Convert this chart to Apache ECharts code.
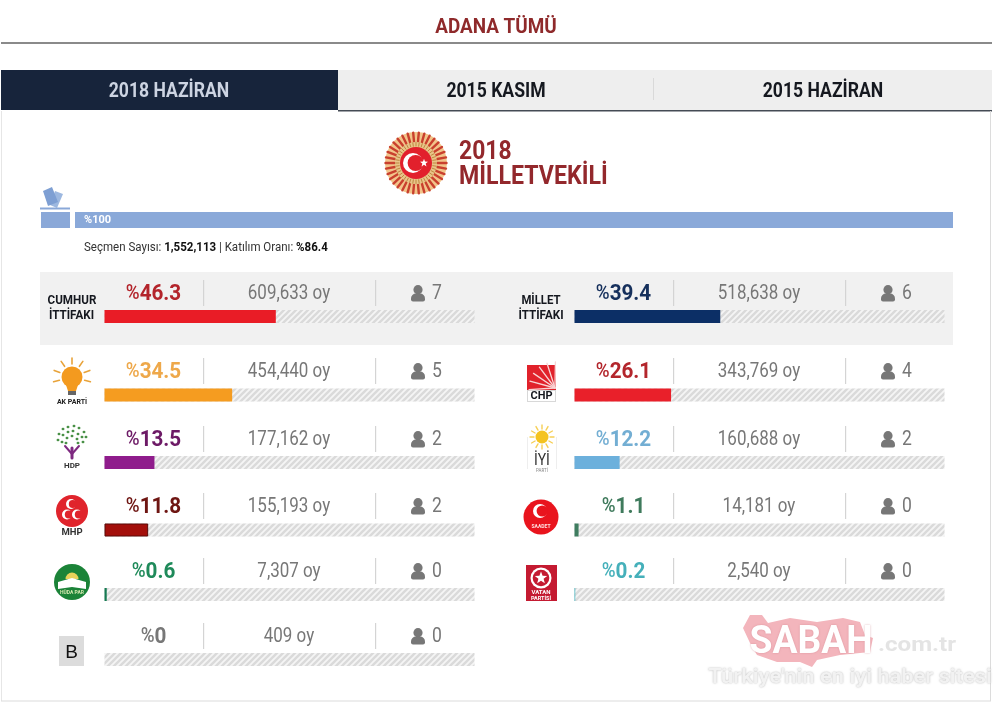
<!DOCTYPE html>
<html><head><meta charset="utf-8">
<style>html,body{margin:0;padding:0;background:#fff}#c{width:996px;height:706px}#c canvas{filter:blur(.35px)}</style>
<script src="https://cdn.jsdelivr.net/npm/echarts@6/dist/echarts.min.js"></script>
</head><body><div id="c"></div>
<script>
// ---- data ----
const title = 'ADANA TÜMÜ';
const tabs = ['2018 HAZİRAN', '2015 KASIM', '2015 HAZİRAN'];
const heading = ['2018', 'MİLLETVEKİLİ'];
const voters = '1,552,113';
const turnout = '%86.4';
const fullScale = 100;
const totalPercent = 100;

const leftKeys = ['cumhur', 'akp', 'hdp', 'mhp', 'huda', 'b'];
const leftPercents = [46.3, 34.5, 13.5, 11.8, 0.6, 0];
const leftVotes = ['609,633', '454,440', '177,162', '155,193', '7,307', '409'];
const leftSeats = [7, 5, 2, 2, 0, 0];

const rightKeys = ['millet', 'chp', 'iyi', 'saadet', 'vatan'];
const rightPercents = [39.4, 26.1, 12.2, 1.1, 0.2];
const rightVotes = ['518,638', '343,769', '160,688', '14,181', '2,540'];
const rightSeats = [6, 4, 2, 0, 0];

// ---- styling ----
const barColors = {cumhur:'#e91c26',akp:'#f59c20',hdp:'#8f1c8c',mhp:'#a30f0b',huda:'#167a52',b:'#888888',
  millet:'#0c2f66',chp:'#e9202a',iyi:'#6cb0dc',saadet:'#3f7d60',vatan:'#45b5bf'};
const valueColors = {cumhur:'#b3242b',akp:'#eea84a',hdp:'#6d1a66',mhp:'#6e1512',huda:'#1f8a5a',b:'#777777',
  millet:'#16305c',chp:'#b3262c',iyi:'#73aed3',saadet:'#3f7a5c',vatan:'#45b0ba'};
const rowText = [293, 371, 439, 506, 571, 636];
const rowBar = [310, 388.5, 456, 523.5, 588, 653];
const F = 'Roboto, sans-serif';

function hatch(bg, fg){
  const c = document.createElement('canvas'); c.width = 6; c.height = 6;
  const g = c.getContext('2d');
  g.fillStyle = bg; g.fillRect(0,0,6,6);
  g.strokeStyle = fg; g.lineWidth = 2.4;
  [[-1,1,1,-1],[-1,7,7,-1],[5,7,7,5]].forEach(l=>{g.beginPath();g.moveTo(l[0],l[1]);g.lineTo(l[2],l[3]);g.stroke();});
  return c;
}
const hatchTile = hatch('#f5f5f5', '#dadada');

const els = [];
function rect(x,y,w,h,fill,z,r){els.push({type:'rect',silent:true,z:z||1,shape:{x,y,width:w,height:h,r:r||0},style:{fill}});}
function circle(cx,cy,r,fill,z){els.push({type:'circle',silent:true,z:z||5,shape:{cx,cy,r},style:{fill}});}
function line(x1,y1,x2,y2,stroke,w,z){els.push({type:'line',silent:true,z:z||3,shape:{x1,y1,x2,y2},style:{stroke,lineWidth:w||1,lineCap:'round'}});}
function poly(pts,fill,z){els.push({type:'polygon',silent:true,z:z||5,shape:{points:pts},style:{fill}});}
function text(t,x,y,font,fill,opt){opt=opt||{};
  const size=parseFloat(font.match(/([\d.]+)px/)[1]);
  els.push({type:'text',silent:true,z:opt.z||6,x,y:y+size*0.1,scaleX:opt.sx||1,
    style:Object.assign({text:t,font,fill,textAlign:opt.align||'center',textVerticalAlign:'middle'},opt.style||{})});}
function star(cx,cy,R,fill,z,rot){const p=[];for(let i=0;i<10;i++){const a=(rot||-Math.PI/2)+i*Math.PI/5,r=i%2?R*0.42:R;p.push([cx+r*Math.cos(a),cy+r*Math.sin(a)]);}poly(p,fill,z);}
function crescent(cx,cy,R,dx,bg,fg,z){circle(cx,cy,R,fg,z);circle(cx+dx,cy,R*0.8,bg,z+1);}
function rays(cx,cy,r1,r2,n,color,w,from,to,z){from=from||0;to=to===undefined?Math.PI*2:to;
  for(let i=0;i<n;i++){const a=from+(to-from)*i/(to-from===Math.PI*2?n:n-1);
    line(cx+r1*Math.cos(a),cy+r1*Math.sin(a),cx+r2*Math.cos(a),cy+r2*Math.sin(a),color,w,z||4);}}

// ---- static frame ----
text(title,496,25.5,'bold 21px '+F,'#8f2a2b',{sx:.9});
rect(1,42,991,2,'#8a8a8a',1);
rect(1,70,337,40,'#17243b',1);
rect(338,70,654,40,'#eeeeee',1);
rect(338,110,654,1.5,'#444b55',1);
rect(653,78,1,22,'#d9d9d9',2);
text(tabs[0],169,89.5,'bold 20px '+F,'#cdd4e2',{sx:.88});
text(tabs[1],496,89.5,'bold 20px '+F,'#15181f',{sx:.88});
text(tabs[2],823,89.5,'bold 20px '+F,'#15181f',{sx:.88});
// page frame
rect(1,111,1,590,'#e6e6e6',1); rect(990,111,1,590,'#dcdcdc',1); rect(1,700.5,990,1,'#dcdcdc',1);

// parliament emblem
(function(){const cx=416,cy=163;
  circle(cx,cy,31,'#f2c48a',2);
  rays(cx,cy,21.5,30.5,34,'#c9402e',2.4,0,Math.PI*2,3);
  circle(cx,cy,21,'#e8c489',4);
  rays(cx,cy,17,20.5,40,'#c0873f',1,0,Math.PI*2,5);
  circle(cx,cy,16,'#e2202c',6);
  crescent(cx-3,cy,10,2.6,'#e2202c','#ffffff',7);
  star(cx+8,cy,4.2,'#ffffff',9);
})();
text(heading[0],459,149.5,'bold 26px '+F,'#93282c',{align:'left',sx:.88});
text(heading[1],459,174.5,'bold 26px '+F,'#93282c',{align:'left',sx:.89});

// ballot icon + turnout bar
poly([[43,191],[52,187],[58,202],[48,206]],'#7e9fd3',3);
poly([[55,191],[63,194],[57,208],[50,205]],'#9db8e0',2);
rect(40,207.5,30,2,'#8aa8d8',3);
rect(41,212,29,16,'#8aa8d8',3);
text('%'+totalPercent,84,219.5,'bold 11px '+F,'#ffffff',{align:'left',z:8,sx:1});
text('{a|Seçmen Sayısı: }{b|'+voters+'}{a| | Katılım Oranı: }{b|'+turnout+'}',84,247,'12px '+F,'#222',{align:'left',sx:.96,style:{rich:{
  a:{font:'12px '+F,fill:'#333'},b:{font:'bold 12px '+F,fill:'#111'}}}});

// alliance panel
rect(40,272,913,73,'#f1f1f1',1);
text('CUMHUR',72,299.5,'bold 12px '+F,'#15181f',{sx:.97});
text('İTTİFAKI',71.5,315,'bold 12px '+F,'#15181f',{sx:.97});
text('MİLLET',541,299.5,'bold 12px '+F,'#15181f',{sx:.95});
text('İTTİFAKI',541,315,'bold 12px '+F,'#15181f',{sx:.97});

// person icon
function person(cx,cy){
  circle(cx,cy-3.3,4.6,'#777777',5);
  rect(cx-7,cy+0.5,14,8,'#777777',5,[5,5,2,2]);
}

// party logos
const logos = {
  akp(x,y){const c=377;rays(x,c,13,19,7,'#e8a33a',1.6,Math.PI*0.92,Math.PI*2.08,3);
    circle(x,c,10.5,'#f39a1f',5);poly([[x-6,c+8],[x+6,c+8],[x+4,c+14],[x-4,c+14]],'#f39a1f',5);
    rect(x-4,c+14,8,4,'#666',5);text('AK PARTİ',x,401.5,'bold 7px '+F,'#222',{});},
  hdp(x,y){const pts=[[-13,-6],[-9,-11],[-4,-13],[2,-14],[7,-12],[12,-8],[14,-3],[-14,0],[-9,-5],[-4,-8],[1,-9],[6,-6],[10,-3],[-10,2],[-5,-2],[0,-4],[5,-1],[11,2],[-6,3],[6,3]];
    pts.forEach(p=>poly([[x+p[0]-1.8,440+p[1]],[x+p[0],440+p[1]-1.6],[x+p[0]+1.8,440+p[1]],[x+p[0],440+p[1]+1.6]],'#3f8a3c',5));
    line(x,448,x,458,'#7e2a80',3,5);line(x,454,x-7,446,'#7e2a80',2,5);line(x,454,x+7,446,'#7e2a80',2,5);
    text('HDP',x,465.5,'bold 8px '+F,'#333',{});},
  mhp(x){circle(x,511,16,'#e0242c',4);
    crescent(x-1,504,5,1.8,'#e0242c','#fff',5);crescent(x-5,514.5,5,1.8,'#e0242c','#fff',7);crescent(x+5,514.5,5,1.8,'#e0242c','#fff',9);
    text('MHP',x,532,'bold 9.5px '+F,'#333',{z:11});},
  huda(x){circle(x,582,18,'#1b8338',4);circle(x,579,6.5,'#e8d25a',5);rect(x-13,579,26,4,'#1b8338',5);
    poly([[x-14,582],[x,578],[x+14,582],[x+14,589],[x,587],[x-14,589]],'#ffffff',6);
    text('HÜDA PAR',x,592,'bold 5px '+F,'#d5e8b0',{z:7});},
  b(x){rect(59,636,25,30,'#dcdcdc',3);text('B',71.5,650.5,'19px "Liberation Sans", sans-serif','#111',{});},
  chp(x){rect(527,365,29,37,'#d8d8d8',3);rect(527,365,29,25,'#e1222b',4);
    for(let i=0;i<6;i++){const a=Math.PI*(0.98+i*0.105);line(555,388,555+26*Math.cos(a),388+26*Math.sin(a),'#f8d5d5',1.3,5);}
    rect(528,391,27,10,'#ffffff',5);text('CHP',541.5,395,'bold 11px '+F,'#15181f',{});},
  iyi(x){rect(527,437,1,32,'#eeeeee',2);rect(556,437,1,32,'#eeeeee',2);
    rays(542,437,8,12,12,'#f6cf55',1.4,0,Math.PI*2,3);circle(542,437,6.5,'#f4c320',5);
    text('İYİ',542,459.5,'17px '+F,'#333',{sx:.82});text('PARTİ',542,470,'4.5px '+F,'#888',{});},
  saadet(x){circle(541,517,17.5,'#e9141d',3);crescent(540,511,7,2.2,'#e9141d','#fff',4);
    text('SAADET',541,526,'bold 5px '+F,'#ffe0e0',{});},
  vatan(x){rect(526,565,31,36,'#c41a31',3);circle(541,578,10.5,'#ffffff',4);circle(541,578,8.3,'#c41a31',5);star(541,578,6.5,'#ffffff',6);
    text('VATAN',541,592,'bold 6px '+F,'#fff',{});text('PARTİSİ',541,598,'bold 5.5px '+F,'#fff',{});}
};
logos.akp(72);logos.hdp(72);logos.mhp(72);logos.huda(72);logos.b(72);logos.chp();logos.iyi();logos.saadet();logos.vatan();

// ---- rows ----
const grids=[],xAxes=[],yAxes=[],series=[];
function addColumn(keys,percents,votes,seats,barLeft){
  const sep1=barLeft+98.5, sep2=barLeft+270.5, vx=barLeft+184.5, valX=barLeft+49, px=barLeft+313.5, sx=barLeft+332.5;
  keys.forEach((k,i)=>{
    const y=rowText[i], idx=grids.length;
    grids.push({left:barLeft,top:rowBar[i],width:370,height:13,containLabel:false});
    xAxes.push({gridIndex:idx,type:'value',min:0,max:fullScale,show:false});
    yAxes.push({gridIndex:idx,type:'category',data:[k],show:false});
    series.push({type:'bar',xAxisIndex:idx,yAxisIndex:idx,barWidth:13,barGap:'-100%',silent:true,z:2,
      data:[fullScale],itemStyle:{color:{image:hatchTile,repeat:'repeat'}}});
    series.push({name:k,type:'bar',xAxisIndex:idx,yAxisIndex:idx,barWidth:13,barGap:'-100%',silent:true,z:3,
      data:[percents[i]],itemStyle:{color:barColors[k],borderColor:k==='mhp'?'#5a0a08':undefined,borderWidth:k==='mhp'?1:0}});
    const col=valueColors[k];
    text('{p|%}{v|'+percents[i]+'}',valX,y-1,'bold 22px '+F,col,{style:{rich:{
      p:{font:'500 20px '+F,fill:col},v:{font:'bold 22px '+F,fill:col}}},sx:.94});
    rect(sep1,y-13,1.2,26,'#d4d4d4',2);
    text(votes[i]+' oy',vx,y-1,'19.5px '+F,'#777777',{sx:.87});
    rect(sep2,y-13,1.2,26,'#d4d4d4',2);
    person(px,y);
    text(String(seats[i]),sx,y-1,'19.5px '+F,'#777777',{sx:.9});
  });
}
addColumn(leftKeys,leftPercents,leftVotes,leftSeats,104.5);
addColumn(rightKeys,rightPercents,rightVotes,rightSeats,574.5);

// turnout bar is driven by the same scales
(function(){const idx=grids.length;
  grids.push({left:75,top:212,width:878,height:16});
  xAxes.push({gridIndex:idx,type:'value',min:0,max:fullScale,show:false});
  yAxes.push({gridIndex:idx,type:'category',data:['turnout'],show:false});
  series.push({type:'bar',xAxisIndex:idx,yAxisIndex:idx,barWidth:16,silent:true,data:[totalPercent],itemStyle:{color:'#8aa9d9'}});
})();

// watermark
poly([[743,628],[750,615],[762,615],[768,623],[790,618],[817,622],[843,618],[860,622],[865,635],[873,638],[870,652],[840,655],[817,660],[812,667],[800,662],[777,662],[757,655],[750,643]],'#f3b5bc',20);
text('SABAH',811,640,'bold 38px '+F,'#ffffff',{sx:.98,z:21,style:{textShadowColor:'rgba(200,120,130,.6)',textShadowBlur:2}});
text('.com.tr',917,644,'bold 21px '+F,'#e4e4e4',{z:21,sx:1.15});
text("Türkiye'nin en iyi haber sitesi",850,676,'bold 20px '+F,'#f2f2f2',{z:21,sx:1.09,style:{textShadowColor:'rgba(150,150,150,.7)',textShadowBlur:2}});

const chart=echarts.init(document.getElementById('c'),null,{renderer:'canvas'});
chart.setOption({animation:false,backgroundColor:'#ffffff',tooltip:{show:false},legend:{show:false},
  grid:grids,xAxis:xAxes,yAxis:yAxes,series:series,graphic:{elements:els}});
</script>
</body></html>
